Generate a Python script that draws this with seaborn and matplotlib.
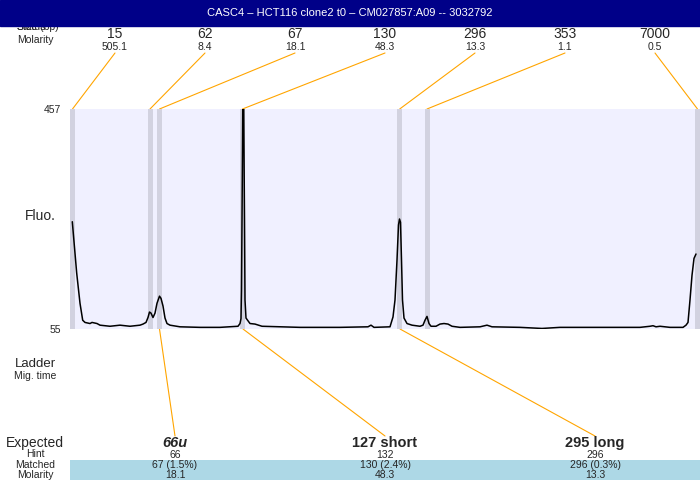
import matplotlib
matplotlib.use("Agg")
import matplotlib.pyplot as plt
import seaborn as sns
from matplotlib.patches import Rectangle

# ---------------------------
# Data
# ---------------------------
title = "CASC4 \u2013 HCT116 clone2 t0 \u2013 CM027857:A09 -- 3032792"

ladder_size = ["15", "62", "67", "130", "296", "353", "7000"]
ladder_molarity = ["505.1", "8.4", "18.1", "48.3", "13.3", "1.1", "0.5"]
ladder_time = [2.5, 80, 89.5, 172.5, 329.7, 357, 627.5]

expected_label = ["66u", "127 short", "295 long"]
expected_style = ["italic", "normal", "normal"]
hint = ["66", "132", "296"]
matched = ["67 (1.5%)", "130 (2.4%)", "296 (0.3%)"]
matched_molarity = ["18.1", "48.3", "13.3"]
matched_time = [89.5, 173, 330]

trace_time = [2.3, 6.7, 10, 12.7, 15, 20, 22, 27, 30, 40, 50, 60, 70, 73, 76, 78,
              79.5, 81, 83, 85, 87, 89.5, 91, 93, 95, 97, 100, 110, 130, 150,
              168, 170, 171, 171.5, 172, 172.5, 173.2, 174, 174.5, 175, 176,
              180, 185, 192, 230, 270, 298, 301, 304, 320, 323, 325, 327,
              328.5, 329.5, 330.5, 331.5, 332.5, 334, 337, 342, 350, 353, 355,
              357, 359, 361, 366, 370, 374, 378, 382, 390, 410, 417, 422, 450,
              472, 490, 530, 570, 580, 583, 586, 590, 600, 613, 616, 618, 620,
              622, 624, 626]
trace_fluo = [251, 157, 102, 71, 67, 65, 67, 65, 62, 60, 62, 60, 62, 64, 67, 76,
              86, 84, 76, 84, 102, 115, 111, 97, 75, 65, 62, 59, 58, 58,
              60, 65, 74, 126, 254, 382, 600, 382, 254, 108, 75,
              65, 64, 60, 58, 58, 59, 62, 58, 59, 77, 108, 181,
              245, 256, 250, 181, 108, 75, 65, 62, 60, 62, 71,
              78, 65, 60, 60, 64, 65, 64, 60, 58, 59, 62, 59, 58,
              56, 58, 58, 58, 60, 61, 59, 60, 58, 58, 62, 67, 108,
              153, 184, 192]

fluo_min, fluo_max = 55, 457

# ---------------------------
# Figure
# ---------------------------
sns.set_style("white")
plt.rcParams["font.family"] = ["Liberation Sans", "DejaVu Sans"]

fig = plt.figure(figsize=(7, 4.8), dpi=100)

# overlay in pixel coordinates for labels / connectors
ov = fig.add_axes([0, 0, 1, 1], zorder=0)
ov.set_xlim(0, 700)
ov.set_ylim(480, 0)
ov.axis("off")

# electropherogram
ax = fig.add_axes([70 / 700, 1 - 329 / 480, 630 / 700, 220 / 480], zorder=1)
ax.set_facecolor("#f0f0ff")
ax.set_xlim(0, 630)
ax.set_ylim(fluo_min, fluo_max)
for t in ladder_time:
    ax.axvspan(t - 2.5, t + 2.5, color="#d2d2e0", lw=0, zorder=0)
sns.lineplot(x=trace_time, y=trace_fluo, ax=ax, color="black", linewidth=1.1,
             estimator=None, sort=False)
ax.set_xticks([])
ax.set_yticks([])
ax.set_xlabel("")
ax.set_ylabel("")
for s in ax.spines.values():
    s.set_visible(False)


def to_px(x, y):
    return ov.transData.inverted().transform(ax.transData.transform((x, y)))


# title bar (drawn over the half-hidden status label, as in the original)
ov.text(17, 27, "Size (bp)", fontsize=7.5, ha="left", va="center", zorder=1)
ov.text(17, 27, "Status", fontsize=7.5, ha="left", va="center", zorder=1)
ov.add_patch(Rectangle((0, 0), 700, 26, color="#000088", zorder=2))
ov.text(350, 13, title, color="white", fontsize=8, ha="center", va="center", zorder=3)

# top: ladder sizes and molarity
ov.text(17, 40, "Molarity", fontsize=7.5, ha="left", va="center")
step = 630 / len(ladder_size)
for i, (sz, mol, t) in enumerate(zip(ladder_size, ladder_molarity, ladder_time)):
    xl = 70 + step * (i + 0.5)
    ov.text(xl, 34, sz, fontsize=10, ha="center", va="center")
    ov.text(xl, 47, mol, fontsize=7.5, ha="center", va="center")
    px, py = to_px(t, fluo_max)
    ov.plot([xl, px], [53, py], color="orange", lw=0.8)

# axis labels
ov.text(61, 110, "457", fontsize=7.5, ha="right", va="center")
ov.text(61, 330, "55", fontsize=7.5, ha="right", va="center")
ov.text(40, 216, "Fluo.", fontsize=10, ha="center", va="center")
ov.text(35, 364, "Ladder", fontsize=9.5, ha="center", va="center")
ov.text(35, 376, "Mig. time", fontsize=7.5, ha="center", va="center")

# bottom: expected / hint / matched / molarity
ov.add_patch(Rectangle((70, 460), 630, 20, color="#add8e6", lw=0, zorder=0))
ov.text(35, 443, "Expected", fontsize=10, ha="center", va="center")
ov.text(35, 454, "Hint", fontsize=7.5, ha="center", va="center")
ov.text(35, 465, "Matched", fontsize=7.5, ha="center", va="center")
ov.text(35, 475, "Molarity", fontsize=7.5, ha="center", va="center")
step = 630 / len(expected_label)
for i in range(len(expected_label)):
    xl = 70 + step * (i + 0.5)
    ov.text(xl, 443, expected_label[i], fontsize=10.5, fontweight="bold",
            fontstyle=expected_style[i], ha="center", va="center")
    ov.text(xl, 455, hint[i], fontsize=7.5, ha="center", va="center")
    ov.text(xl, 465, matched[i], fontsize=7.5, ha="center", va="center")
    ov.text(xl, 475, matched_molarity[i], fontsize=7.5, ha="center", va="center")
    px, py = to_px(matched_time[i], fluo_min)
    ov.plot([px, xl], [py, 436], color="orange", lw=0.8)

fig.savefig("out.png", dpi=100)
